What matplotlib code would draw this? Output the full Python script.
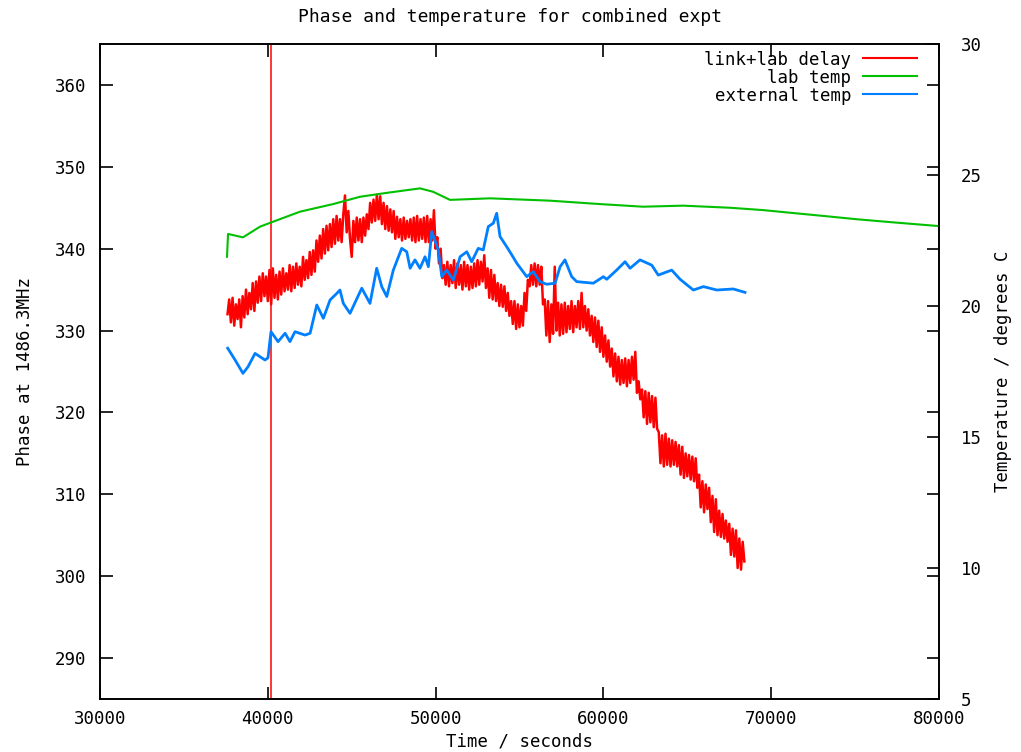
import numpy as np
import matplotlib
matplotlib.use("Agg")
import matplotlib.pyplot as plt

plt.rcParams['font.family'] = ['DejaVu Sans Mono']

# ---------------- data ----------------
title = "Phase and temperature for combined expt"
xlabel = "Time / seconds"
ylabel_left = "Phase at 1486.3MHz"
ylabel_right = "Temperature / degrees C"

x_ticks = [30000, 40000, 50000, 60000, 70000, 80000]
y_left_ticks = [290, 300, 310, 320, 330, 340, 350, 360]
y_right_ticks = [5, 10, 15, 20, 25, 30]

# link+lab delay (phase), sampled every 100 s from 37600 s
delay_t_start = 37600
delay_t_step = 100
delay_phase = [
    332.0, 333.8, 331.0, 334.0, 330.6, 333.2, 331.4, 333.8, 330.4, 334.2,
    331.6, 335.0, 332.0, 334.6, 332.6, 335.8, 332.4, 336.0, 333.4, 336.6,
    333.6, 337.0, 334.2, 336.6, 333.6, 337.4, 333.2, 337.6, 334.0, 336.8,
    333.8, 337.2, 334.4, 337.6, 334.8, 337.0, 335.0, 338.0, 334.8, 337.8,
    335.2, 338.2, 335.6, 337.8, 335.4, 339.0, 336.2, 338.6, 336.4, 339.6,
    336.8, 339.8, 337.2, 341.0, 338.4, 341.6, 338.8, 342.4, 339.4, 342.8,
    339.8, 343.0, 340.2, 343.6, 340.6, 344.0, 341.0, 343.6, 340.8, 344.2,
    346.5, 342.0, 344.6, 341.2, 339.0, 343.4, 340.8, 343.8, 341.0, 343.6,
    340.8, 343.8, 341.6, 344.2, 342.4, 345.6, 343.2, 346.0, 343.4, 346.6,
    343.6, 346.4, 343.0, 345.6, 342.4, 345.2, 342.2, 344.8, 342.0, 344.6,
    341.2, 343.9, 341.4, 343.6, 341.0, 343.8, 341.2, 343.4, 341.4, 343.6,
    341.0, 343.8, 340.8, 344.0, 341.0, 343.6, 341.2, 343.8, 340.8, 344.0,
    340.8, 343.6, 341.0, 344.7, 340.0, 341.4, 338.2, 340.0, 336.4, 338.0,
    335.6, 338.4, 335.4, 338.0, 335.8, 338.6, 335.2, 338.2, 335.6, 338.0,
    335.0, 338.4, 335.4, 338.0, 335.0, 337.8, 335.2, 338.2, 335.4, 338.6,
    335.6, 338.4, 336.0, 339.2, 335.2, 337.6, 334.0, 337.4, 333.8, 336.8,
    333.6, 335.8, 333.0, 335.6, 332.9, 335.4, 332.4, 334.6, 331.8, 333.6,
    330.8, 333.6, 330.2, 333.2, 330.4, 333.0, 330.6, 334.6, 332.4, 336.2,
    335.4, 338.0, 335.6, 338.2, 335.4, 338.0, 335.6, 337.8, 333.2, 333.8,
    329.4, 333.6, 328.6, 333.2, 329.6, 337.8, 330.0, 333.4, 329.4, 333.2,
    329.6, 333.4, 329.8, 333.0, 330.2, 333.6, 329.8, 333.0, 330.4, 333.6,
    330.2, 334.6, 330.4, 333.0, 330.0, 332.6, 329.4, 331.8, 328.6, 331.6,
    328.0, 331.2, 327.4, 330.4, 326.8, 329.4, 326.2, 328.8, 325.6, 327.8,
    324.4, 327.2, 323.8, 326.8, 323.4, 326.4, 323.6, 326.6, 323.2, 326.4,
    323.6, 326.8, 324.0, 327.4, 322.4, 323.8, 321.6, 322.8, 319.4, 322.6,
    318.6, 322.4, 318.8, 322.0, 318.2, 321.8, 318.0, 317.6, 313.8, 317.2,
    313.4, 317.4, 313.6, 316.8, 313.4, 316.6, 313.6, 316.4, 313.4, 316.0,
    312.4, 315.8, 312.0, 315.0, 312.2, 314.8, 311.8, 314.6, 311.6, 314.4,
    310.8, 312.4, 308.4, 311.6, 307.8, 311.2, 308.2, 310.8, 306.6, 309.8,
    305.4, 309.4, 305.0, 308.0, 304.8, 307.6, 304.6, 306.8, 304.2, 306.4,
    302.6, 305.8, 302.4, 305.6, 301.0, 304.6, 300.8, 304.2, 301.8,
]
delay_marker_time = 40190  # isolated vertical excursion in delay trace

# lab temperature
lab_t = [37570, 37630, 38520, 39540, 40910, 41920, 43890, 45500, 47110, 49070,
         49850, 50860, 53240, 56820, 59800, 62360, 64750, 67550, 69520, 71120,
         72910, 75120, 77500, 80000]
lab_temp = [21.88, 22.75, 22.62, 23.03, 23.36, 23.60, 23.89, 24.17, 24.32, 24.49,
            24.36, 24.05, 24.11, 24.02, 23.89, 23.79, 23.83, 23.75, 23.66, 23.56,
            23.45, 23.31, 23.18, 23.05]

# external temperature
ext_t = [37610, 38050, 38520, 38820, 39240, 39830, 40010, 40190, 40610, 41030,
         41320, 41620, 42220, 42520, 42920, 43310, 43710, 44110, 44300, 44500,
         44900, 45600, 46090, 46490, 46790, 47090, 47480, 47980, 48280, 48480,
         48770, 49070, 49370, 49570, 49770, 50160, 50370, 50660, 51060, 51460,
         51860, 52150, 52540, 52840, 53140, 53440, 53640, 53840, 54240, 54540,
         54840, 55430, 55820, 56220, 56620, 57120, 57420, 57710, 58110, 58410,
         59400, 60000, 60200, 60790, 61290, 61590, 62180, 62880, 63270, 64070,
         64570, 65360, 65960, 66760, 67740, 68440]
ext_temp = [18.39, 17.94, 17.43, 17.68, 18.19, 17.94, 18.02, 19.02, 18.64, 18.96,
            18.64, 19.02, 18.89, 18.96, 20.04, 19.53, 20.23, 20.48, 20.61, 20.10,
            19.72, 20.68, 20.10, 21.44, 20.74, 20.36, 21.37, 22.20, 22.07, 21.44,
            21.76, 21.44, 21.88, 21.50, 22.84, 22.14, 21.12, 21.37, 20.99, 21.88,
            22.07, 21.69, 22.20, 22.14, 23.03, 23.16, 23.54, 22.65, 22.26, 21.95,
            21.63, 21.12, 21.31, 20.93, 20.83, 20.87, 21.50, 21.76, 21.12, 20.93,
            20.87, 21.12, 21.02, 21.37, 21.69, 21.44, 21.76, 21.56, 21.18, 21.37,
            21.02, 20.61, 20.74, 20.61, 20.65, 20.52]

series_labels = ["link+lab delay", "lab temp", "external temp"]
colors = ["#ff0000", "#00c000", "#0080ff"]

# ---------------- plot ----------------
delay_t = delay_t_start + delay_t_step * np.arange(len(delay_phase))

W, H = 1021, 752
fig = plt.figure(figsize=(W / 100, H / 100), dpi=100)
ax = fig.add_axes([100 / W, 53 / H, 839 / W, 655 / H])
ax2 = ax.twinx()

fs = 12.5
ax.axvline(delay_marker_time, color=colors[0], lw=1.1, zorder=1)
l1, = ax.plot(delay_t, delay_phase, color=colors[0], lw=1.8, label=series_labels[0])
l2, = ax2.plot(lab_t, lab_temp, color=colors[1], lw=1.5, label=series_labels[1])
l3, = ax2.plot(ext_t, ext_temp, color=colors[2], lw=2.0, label=series_labels[2])

ax.set_xlim(30000, 80000)
ax.set_ylim(285, 365)
ax2.set_ylim(5, 30)

ax.set_xticks(x_ticks)
ax.set_yticks(y_left_ticks)
ax2.set_yticks(y_right_ticks)

ax.tick_params(axis='x', direction='in', length=9, width=1.2, top=True, pad=8, labelsize=fs)
ax.tick_params(axis='y', direction='in', length=9, width=1.2, right=True, pad=10, labelsize=fs)
ax2.tick_params(axis='y', direction='in', length=9, width=1.2, pad=16, labelsize=fs)

for a in (ax, ax2):
    for s in a.spines.values():
        s.set_linewidth(1.2)

fig.suptitle(title, fontsize=13, y=1 - 17 / H, va='center')

ax.set_xlabel(xlabel, fontsize=fs)
ax.xaxis.set_label_coords(0.5, (752 - 742 - 53) / 655)
ax.xaxis.label.set_va('center')

ax.set_ylabel(ylabel_left, fontsize=fs)
ax.yaxis.set_label_coords((25 - 100) / 839, 0.5)
ax.yaxis.label.set_va('center')

ax2.set_ylabel(ylabel_right, fontsize=fs)
ax2.yaxis.set_label_coords((1003 - 100) / 839, 0.5)
ax2.yaxis.label.set_va('center')

leg = ax2.legend([l1, l2, l3], series_labels, loc='upper right',
                 bbox_to_anchor=(0.974, 0.99), frameon=False, markerfirst=False,
                 fontsize=fs, handlelength=3.1, handletextpad=0.7,
                 labelspacing=0.0, borderpad=0, borderaxespad=0)
for h in leg.get_lines():
    h.set_linewidth(1.5)

fig.savefig("out.png", dpi=100)
